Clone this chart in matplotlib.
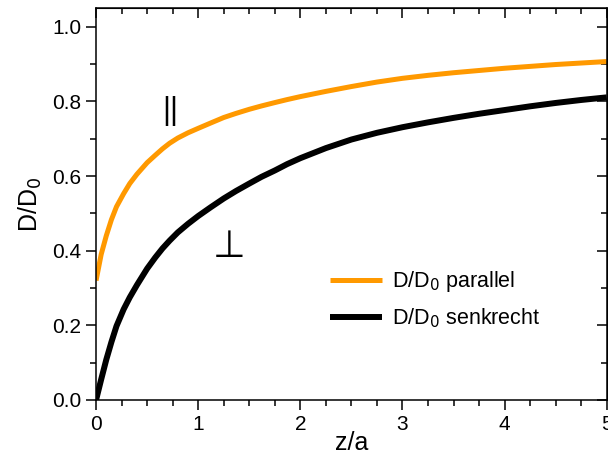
import matplotlib
matplotlib.use('Agg')
import matplotlib.pyplot as plt
from matplotlib.ticker import MultipleLocator

plt.rcParams['font.family'] = ['Liberation Sans', 'DejaVu Sans']

# values
z_a = [0.0, 0.05, 0.1, 0.15, 0.2, 0.27, 0.33, 0.4, 0.5, 0.58, 0.65, 0.72, 0.8, 0.9,
       1.0, 1.12, 1.25, 1.37, 1.5, 1.62, 1.75, 1.87, 2.0, 2.25, 2.5, 2.75, 3.0,
       3.25, 3.5, 3.75, 4.0, 4.25, 4.5, 4.75, 5.0]
d_parallel = [0.32, 0.39, 0.44, 0.483, 0.518, 0.553, 0.58, 0.605, 0.636, 0.656,
              0.673, 0.688, 0.702, 0.716, 0.728, 0.742, 0.757, 0.768, 0.779, 0.788,
              0.797, 0.805, 0.813, 0.827, 0.84, 0.852, 0.862, 0.87, 0.877, 0.883,
              0.889, 0.894, 0.899, 0.903, 0.907]
d_senkrecht = [0.0, 0.055, 0.108, 0.155, 0.198, 0.243, 0.275, 0.308, 0.352, 0.382,
               0.406, 0.427, 0.449, 0.472, 0.493, 0.516, 0.54, 0.56, 0.58, 0.598,
               0.615, 0.632, 0.648, 0.675, 0.698, 0.716, 0.731, 0.744, 0.756, 0.767,
               0.777, 0.787, 0.796, 0.804, 0.811]

fig = plt.figure(figsize=(6.08, 4.54), dpi=100)
ax = fig.add_axes([0.158, 0.119, 0.84, 0.863])

ax.plot(z_a, d_parallel, color='#FF9900', lw=3.6, solid_joinstyle='round',
        solid_capstyle='butt', label='D/D$_0$ parallel')
ax.plot(z_a, d_senkrecht, color='black', lw=4.3, solid_joinstyle='round',
        solid_capstyle='butt', label='D/D$_0$ senkrecht')

ax.set_xlim(0, 5)
ax.set_ylim(0, 1.05)
ax.xaxis.set_major_locator(MultipleLocator(1))
ax.xaxis.set_minor_locator(MultipleLocator(0.25))
ax.yaxis.set_major_locator(MultipleLocator(0.2))
ax.yaxis.set_minor_locator(MultipleLocator(0.1))
ax.yaxis.set_major_formatter(plt.FormatStrFormatter('%.1f'))
ax.tick_params(which='major', direction='out', length=7, width=1.1, labelsize=15)
ax.tick_params(which='minor', direction='out', length=4, width=1.1)
for sp in ax.spines.values():
    sp.set_linewidth(1.1)

# mirrored inward ticks on top and right
top = ax.secondary_xaxis('top')
top.xaxis.set_major_locator(MultipleLocator(1))
top.xaxis.set_minor_locator(MultipleLocator(0.25))
top.tick_params(which='both', direction='in', labeltop=False, width=1.1)
top.tick_params(which='major', length=7)
top.tick_params(which='minor', length=4)
right = ax.secondary_yaxis('right')
right.yaxis.set_major_locator(MultipleLocator(0.2))
right.yaxis.set_minor_locator(MultipleLocator(0.1))
right.tick_params(which='both', direction='in', labelright=False, width=1.1)
right.tick_params(which='major', length=7)
right.tick_params(which='minor', length=4)

ax.set_xlabel('z/a', fontsize=18, labelpad=-2)
ax.set_ylabel('D/D$_0$', fontsize=18, labelpad=6)

ax.text(0.73, 0.775, '||', fontsize=22, ha='center', va='center')
ax.text(1.3, 0.41, '⊥', fontsize=27, ha='center', va='center', family=['DejaVu Sans'])

ax.legend(loc='lower left', bbox_to_anchor=(0.42, 0.13), frameon=False, fontsize=15.5,
          handlelength=2.4, handletextpad=0.5, labelspacing=0.55)

fig.savefig('out.png', dpi=100)
